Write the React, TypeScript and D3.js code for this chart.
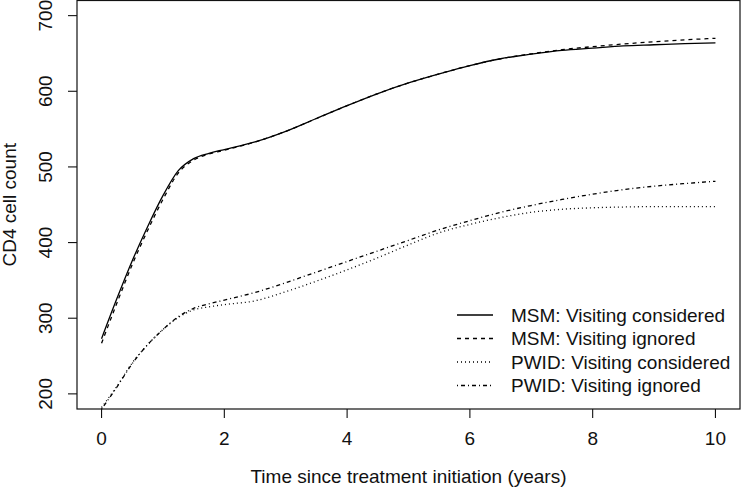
import { scaleLinear, line, curveMonotoneX } from "d3";

// time since treatment initiation (years)
const times = [0, 0.25, 0.5, 0.75, 1, 1.25, 1.5, 1.75, 2, 2.5, 3, 3.5, 4, 4.5, 5, 5.5, 6, 6.5, 7, 7.5, 8, 8.5, 9, 9.5, 10];

const msmConsidered = [273, 326, 376, 421, 462, 495, 511, 518, 523, 533, 547, 564, 581, 597, 611, 623, 634, 643, 649, 654, 657, 660, 661.5, 663, 664];
const msmIgnored = [267, 320, 371, 416, 457, 492, 509, 517, 522, 533, 547, 564, 581, 597, 611, 623, 634, 643, 649.5, 655, 659, 662.5, 665.5, 668, 670];
const pwidConsidered = [182, 210, 241, 265, 285, 301, 311, 315, 318, 323, 335, 349, 364, 380, 397, 413, 424, 433, 440, 444, 446, 447, 447.5, 447.5, 447.5];
const pwidIgnored = [180, 209, 240, 265, 285, 302, 313, 319, 324, 334, 347, 361, 375, 389, 403, 417, 429, 440, 449, 457, 464, 470, 474.5, 478, 481];

const xTicks = [0, 2, 4, 6, 8, 10];
const yTicks = [200, 300, 400, 500, 600, 700];

const legendLabels = [
  "MSM: Visiting considered",
  "MSM: Visiting ignored",
  "PWID: Visiting considered",
  "PWID: Visiting ignored",
];
// R line types: solid, dashed, dotted, dot-dash
const dashes = ["none", "4 4", "1 3", "1 3 4 3"];

const W = 741;
const H = 488;
const FONT = "'Liberation Sans', Arial, Helvetica, sans-serif";

export default function App() {
  const x = scaleLinear().domain([-0.4, 10.4]).range([77, 740]);
  const y = scaleLinear().domain([180, 720]).range([409, 0.5]);

  const series = [msmConsidered, msmIgnored, pwidConsidered, pwidIgnored];
  const path = line<number>()
    .x((_, i) => x(times[i]))
    .y((d) => y(d))
    .curve(curveMonotoneX);

  const [x0, x1] = x.range();
  const [yb, yt] = y.range();

  return (
    <svg
      width={W}
      height={H}
      style={{ position: "absolute", left: 0, top: 0, background: "#fff" }}
      fontFamily={FONT}
    >
      <rect x={x0} y={yt} width={x1 - x0} height={yb - yt} fill="none" stroke="#111" strokeWidth={1.2} />

      {/* x axis */}
      {xTicks.map((t) => (
        <g key={`x${t}`}>
          <line x1={x(t)} x2={x(t)} y1={yb} y2={yb + 9} stroke="#111" strokeWidth={1.1} />
          <text x={x(t)} y={445} textAnchor="middle" fontSize={19} fill="#111">
            {t}
          </text>
        </g>
      ))}
      <text x={(x0 + x1) / 2} y={483} textAnchor="middle" fontSize={19} fill="#111">
        Time since treatment initiation (years)
      </text>

      {/* y axis */}
      {yTicks.map((t) => (
        <g key={`y${t}`}>
          <line x1={x0 - 9} x2={x0} y1={y(t)} y2={y(t)} stroke="#111" strokeWidth={1.1} />
          <text
            transform={`translate(52, ${y(t)}) rotate(-90)`}
            textAnchor="middle"
            fontSize={19}
            fill="#111"
          >
            {t}
          </text>
        </g>
      ))}
      <text
        transform={`translate(16, ${(yb + yt) / 2}) rotate(-90)`}
        textAnchor="middle"
        fontSize={19}
        fill="#111"
      >
        CD4 cell count
      </text>

      {/* curves */}
      {series.map((s, i) => (
        <path
          key={legendLabels[i]}
          d={path(s) ?? ""}
          fill="none"
          stroke="#000"
          strokeWidth={1.3}
          strokeDasharray={dashes[i]}
        />
      ))}

      {/* legend */}
      {legendLabels.map((label, i) => {
        const ly = 315 + i * 23.5;
        return (
          <g key={label}>
            <line x1={457} x2={493} y1={ly} y2={ly} stroke="#000" strokeWidth={1.3} strokeDasharray={dashes[i]} />
            <text x={511} y={ly + 6.8} fontSize={19} fill="#111">
              {label}
            </text>
          </g>
        );
      })}
    </svg>
  );
}
